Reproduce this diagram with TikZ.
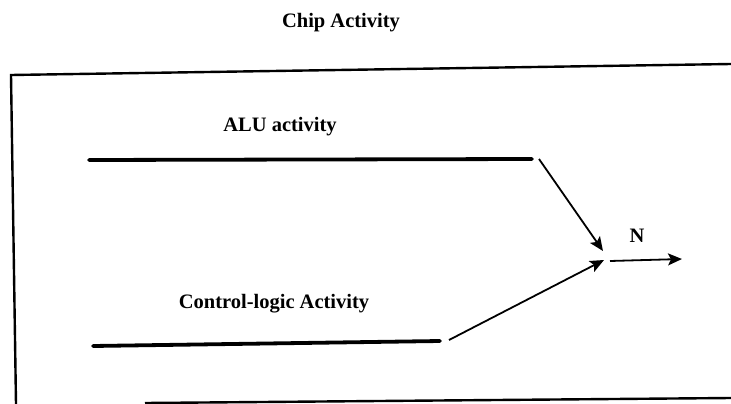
\documentclass[tikz,border=0pt]{standalone}
\usepackage{fontspec}
\setmainfont{Liberation Serif}
\usetikzlibrary{arrows.meta}
\begin{document}
\begin{tikzpicture}[x=1pt,y=-1pt,
  label/.style={font=\fontsize{20.5}{22}\selectfont\bfseries, inner sep=0pt, anchor=base},
  frame/.style={line width=2.4pt},
  track/.style={line width=3.8pt, line cap=round},
  feed/.style={line width=1.8pt, -{Stealth[length=14pt,width=12pt,inset=3pt]}}]
  \useasboundingbox (0,0) rectangle (731,404);

  % title
  \node[label] (title) at (341,28) {Chip Activity};

  % enclosing frame (open at the right)
  \coordinate (tl) at (11,75);
  \coordinate (tr) at (731,64);
  \coordinate (bl) at (16,404);
  \coordinate (bs) at (145,403);
  \coordinate (br) at (731,398);
  \draw[frame] (tr) -- (tl) -- (bl);
  \draw[frame] (bs) -- (br);

  % activity tracks
  \node[label] (alu) at (280,131) {ALU activity};
  \coordinate (alu-a) at (89,160);
  \coordinate (alu-b) at (532,159);
  \draw[track] (alu-a) -- (alu-b);

  \node[label] (ctl) at (274,308) {Control-logic Activity};
  \coordinate (ctl-a) at (93,346);
  \coordinate (ctl-b) at (440,341);
  \draw[track] (ctl-a) -- (ctl-b);

  % merging into N
  \coordinate (alu-c) at (539,159);
  \coordinate (alu-d) at (603,251);
  \coordinate (ctl-c) at (449,340);
  \coordinate (ctl-d) at (604,260);
  \draw[feed] (alu-c) -- (alu-d);
  \draw[feed] (ctl-c) -- (ctl-d);

  \node[label] (n) at (637,242) {N};
  \coordinate (out-a) at (610,261);
  \coordinate (out-b) at (682,259);
  \draw[feed] (out-a) -- (out-b);
\end{tikzpicture}
\end{document}
